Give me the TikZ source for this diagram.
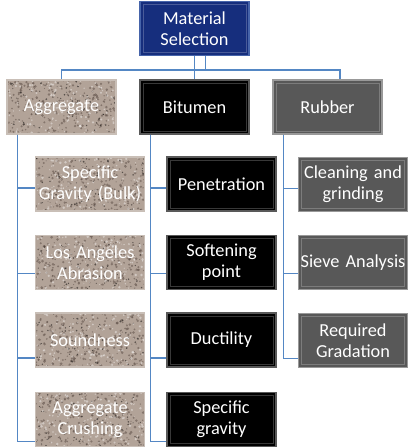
\documentclass[tikz,border=0pt]{standalone}
\usepackage{fontspec}
\setmainfont{Carlito}
\usetikzlibrary{calc}

\definecolor{linkblue}{RGB}{84,135,196}
\definecolor{navy}{RGB}{22,46,125}
\definecolor{navyedge}{RGB}{70,100,170}
\definecolor{granite}{RGB}{178,163,152}
\definecolor{speck}{RGB}{95,80,72}
\definecolor{rubbergray}{RGB}{88,88,88}

\tikzset{
  box/.style={minimum width=109pt, minimum height=54pt, text width=108pt,
    align=center, inner sep=0pt, text=white, line width=1.2pt,
    font=\fontsize{18.3}{21}\selectfont},
  bevel/.style={path picture={
    \draw[white, opacity=.22, line width=.8pt]
      ([shift={(3pt,3pt)}]path picture bounding box.south west) rectangle
      ([shift={(-3pt,-3pt)}]path picture bounding box.north east);}},
  selbox/.style={box, bevel, fill=navy, draw=navyedge},
  bitbox/.style={box, bevel, fill=black, draw=black!65},
  rubbox/.style={box, bevel, fill=rubbergray, draw=black!40},
  aggbox/.style={box, fill=granite, draw=granite!70!white, path picture={
    \foreach \k in {1,...,260}
      \fill[speck, opacity=.55] (path picture bounding box.south west)
        ++({rnd*112pt},{rnd*57pt}) circle ({0.5pt+rnd*1pt});
    \foreach \k in {1,...,90}
      \fill[black, opacity=.5] (path picture bounding box.south west)
        ++({rnd*112pt},{rnd*57pt}) circle ({0.4pt+rnd*0.6pt});
    \foreach \k in {1,...,160}
      \fill[white, opacity=.4] (path picture bounding box.south west)
        ++({rnd*112pt},{rnd*57pt}) circle ({0.5pt+rnd*0.9pt});}},
  link/.style={draw=linkblue, line width=1.8pt}
}

\begin{document}
\begin{tikzpicture}[x=1pt, y=-1pt]
  \pgfmathsetseed{7}
  \useasboundingbox (0,0) rectangle (410,448);

  % top level
  \node[selbox] (sel) at (194.5,28.5) {Material\\Selection};
  \node[aggbox] (agg) at (61.5,107) {Aggregate};
  \node[bitbox] (bitu) at (194.5,107) {Bitumen};
  \node[rubbox] (rub) at (327.5,107) {Rubber};

  % aggregate tests
  \node[aggbox] (sg) at (90,184) {Specific\\Gravity (Bulk)};
  \node[aggbox] (la) at (90,262.5) {Los Angeles\\Abrasion};
  \node[aggbox] (sd) at (90,340) {Soundness};
  \node[aggbox] (ac) at (90,419.5) {Aggregate\\Crushing};

  % bitumen tests
  \node[bitbox] (pen) at (221.5,184) {Penetration};
  \node[bitbox] (soft) at (221.5,262.5) {Softening\\point};
  \node[bitbox] (duct) at (221.5,340) {Ductility};
  \node[bitbox] (sgb) at (221.5,419.5) {Specific\\gravity};

  % rubber steps
  \node[rubbox] (clean) at (353,184.5) {Cleaning and\\grinding};
  \node[rubbox] (sieve) at (353,262.5) {Sieve Analysis};
  \node[rubbox] (grad) at (353,340.5) {Required\\Gradation};

  % connectors
  \draw[link] (sel.south) -- (bitu.north);
  \draw[link] ([xshift=11pt]sel.south) -- ++(0,-14pt) coordinate (bus);
  \draw[link] (agg.north) |- (bus) -| ([xshift=12.5pt]rub.north);
  \foreach \c/\d in {sg/4, la/11, sd/18, ac/22}
    \draw[link] ([xshift=11pt]agg.south west) |- ([yshift=-\d pt]\c.west);
  \foreach \c/\d in {pen/4, soft/11, duct/18, sgb/22}
    \draw[link] ([xshift=11pt]bitu.south west) |- ([yshift=-\d pt]\c.west);
  \foreach \c/\d in {clean/4, sieve/11, grad/18}
    \draw[link] ([xshift=11pt]rub.south west) |- ([yshift=-\d pt]\c.west);
\end{tikzpicture}
\end{document}
